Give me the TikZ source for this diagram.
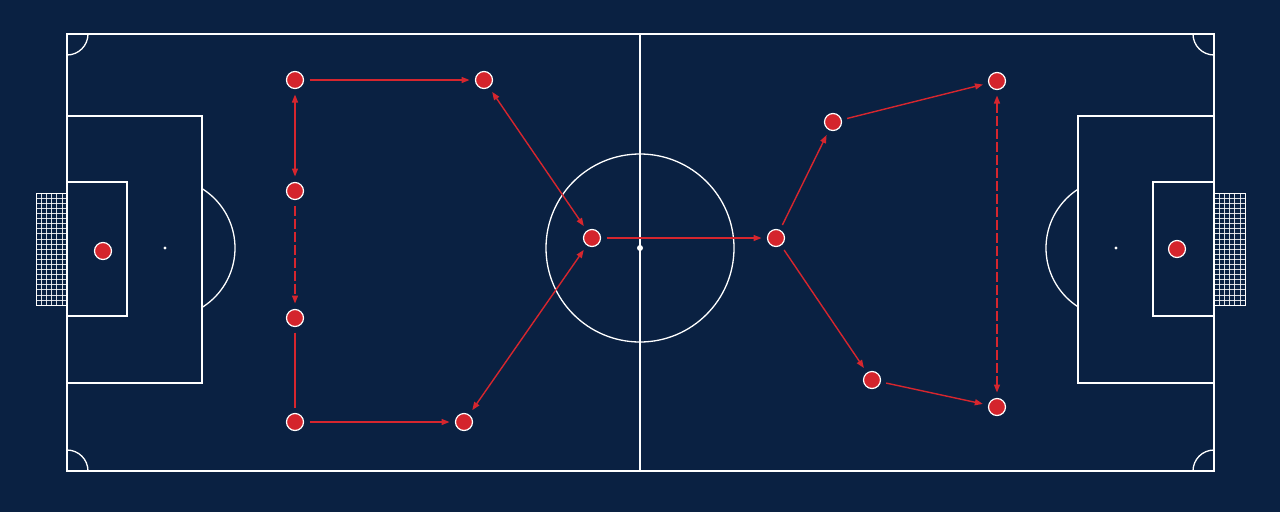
\documentclass[tikz,border=0pt]{standalone}
\usetikzlibrary{arrows.meta}
\definecolor{pitch}{RGB}{10,33,66}
\definecolor{pred}{RGB}{214,38,46}
\definecolor{plred}{RGB}{212,36,44}
\begin{document}
\begin{tikzpicture}[x=1pt,y=-1pt,
  fline/.style={draw=white,line width=1.3pt},
  netline/.style={draw=white,line width=0.5pt,opacity=0.85},
  player/.style={circle,fill=plred,draw=white,line width=1.2pt,minimum size=17pt,inner sep=0pt,outer sep=0pt},
  pass/.style={draw=pred,line width=1.4pt,shorten <=6pt,shorten >=6pt},
  tipend/.style={-{Triangle[length=8pt,width=6pt]}},
  tipboth/.style={{Triangle[length=8pt,width=6pt]}-{Triangle[length=8pt,width=6pt]}},
  dashpass/.style={dash pattern=on 10pt off 3pt}
]
\fill[pitch] (0,0) rectangle (1280,512);
\useasboundingbox (0,0) rectangle (1280,512);

% field outline and halfway line
\draw[fline] (67,34) rectangle (1214,471);
\draw[fline] (640,34) -- (640,471);
\draw[fline] (640,248) circle (94);
\fill[white] (640,248) circle (3);

% corner arcs
\begin{scope}
  \clip (67,34) rectangle (1214,471);
  \draw[fline] (67,34) circle (21);
  \draw[fline] (1214,34) circle (21);
  \draw[fline] (67,471) circle (21);
  \draw[fline] (1214,471) circle (21);
\end{scope}

% left penalty area
\draw[fline] (67,116) rectangle (202,383);
\draw[fline] (67,182) rectangle (127,316);
\fill[white] (165,248) circle (1.6);
\begin{scope}
  \clip (202,0) rectangle (320,512);
  \draw[fline] (165,248) circle (70);
\end{scope}

% right penalty area
\draw[fline] (1078,116) rectangle (1214,383);
\draw[fline] (1153,182) rectangle (1214,316);
\fill[white] (1116,248) circle (1.6);
\begin{scope}
  \clip (960,0) rectangle (1078,512);
  \draw[fline] (1116,248) circle (70);
\end{scope}

% nets
\foreach \i in {1,...,5} {
  \draw[netline] ({36+\i*31/6},193) -- ({36+\i*31/6},305);
  \draw[netline] ({1214+\i*31/6},193) -- ({1214+\i*31/6},305);
}
\foreach \j in {1,...,21} {
  \draw[netline] (36,{193+\j*112/22}) -- (67,{193+\j*112/22});
  \draw[netline] (1214,{193+\j*112/22}) -- (1245,{193+\j*112/22});
}
\draw[draw=white,line width=1pt] (67,193) -- (36,193) -- (36,305) -- (67,305);
\draw[draw=white,line width=1pt] (1214,193) -- (1245,193) -- (1245,305) -- (1214,305);

% players
\node[player] (gkl) at (103,251) {};
\node[player] (gkr) at (1177,249) {};
\node[player] (a) at (295,80) {};
\node[player] (b) at (484,80) {};
\node[player] (c) at (295,191) {};
\node[player] (d) at (295,318) {};
\node[player] (e) at (295,422) {};
\node[player] (f) at (464,422) {};
\node[player] (g) at (592,238) {};
\node[player] (h) at (776,238) {};
\node[player] (i) at (833,122) {};
\node[player] (j) at (997,81) {};
\node[player] (k) at (872,380) {};
\node[player] (l) at (997,407) {};

% passes
\draw[pass,tipend] (a) -- (b);
\draw[pass,tipboth] (a) -- (c);
\draw[pass,tipend,dashpass] (c) -- (d);
\draw[pass] (d) -- (e);
\draw[pass,tipend] (e) -- (f);
\draw[pass,tipboth] (f) -- (g);
\draw[pass,tipboth] (b) -- (g);
\draw[pass,tipend] (g) -- (h);
\draw[pass,tipend] (h) -- (i);
\draw[pass,tipend] (i) -- (j);
\draw[pass,tipend] (h) -- (k);
\draw[pass,tipend] (k) -- (l);
\draw[pass,tipboth,dashpass] (j) -- (l);
\end{tikzpicture}
\end{document}
